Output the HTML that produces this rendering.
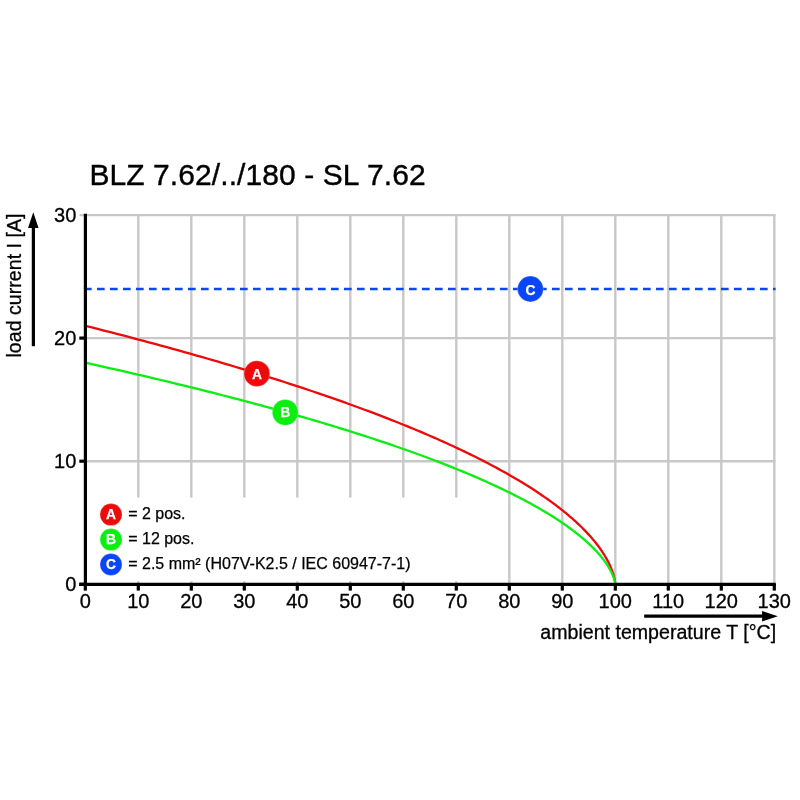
<!DOCTYPE html>
<html><head><meta charset="utf-8"><title>Derating curve</title>
<style>
html,body{margin:0;padding:0;background:#fff;}
body{width:800px;height:800px;overflow:hidden;}
svg{display:block;will-change:transform;}
text{font-family:"Liberation Sans",sans-serif;fill:#000;}
</style></head><body>
<svg width="800" height="800" viewBox="0 0 800 800">
<text x="89.4" y="184.9" font-size="30" textLength="336.2" lengthAdjust="spacing" stroke="#000" stroke-width="0.4">BLZ 7.62/../180 - SL 7.62</text>
<g stroke="#c8c8c8" stroke-width="2.4" fill="none">
<line x1="138.30" y1="215" x2="138.30" y2="584"/><line x1="191.30" y1="215" x2="191.30" y2="584"/><line x1="244.30" y1="215" x2="244.30" y2="584"/><line x1="297.30" y1="215" x2="297.30" y2="584"/><line x1="350.30" y1="215" x2="350.30" y2="584"/><line x1="403.30" y1="215" x2="403.30" y2="584"/><line x1="456.30" y1="215" x2="456.30" y2="584"/><line x1="509.30" y1="215" x2="509.30" y2="584"/><line x1="562.30" y1="215" x2="562.30" y2="584"/><line x1="615.30" y1="215" x2="615.30" y2="584"/><line x1="668.30" y1="215" x2="668.30" y2="584"/><line x1="721.30" y1="215" x2="721.30" y2="584"/><line x1="774.30" y1="215" x2="774.30" y2="584"/><line x1="85" y1="461.20" x2="775.5" y2="461.20"/><line x1="85" y1="338.10" x2="775.5" y2="338.10"/><line x1="79.5" y1="215.05" x2="775.7" y2="215.05" stroke-width="2.15"/>
</g>
<rect x="86.5" y="497.6" width="390" height="83.6" fill="#fff"/>
<path d="M83.95,289.06 H775.6" stroke="#0a46f5" stroke-width="2.4" stroke-dasharray="7.7,5.3" fill="none"/>
<path d="M85.30,325.79 L91.90,327.45 L98.44,329.12 L104.93,330.77 L111.36,332.43 L117.74,334.08 L124.06,335.73 L130.34,337.38 L136.55,339.02 L142.72,340.66 L148.83,342.30 L154.89,343.94 L160.89,345.57 L166.84,347.20 L172.74,348.82 L178.59,350.45 L184.39,352.07 L190.14,353.68 L195.83,355.30 L201.47,356.91 L207.07,358.51 L212.61,360.12 L218.10,361.72 L223.54,363.32 L228.93,364.91 L234.27,366.50 L239.56,368.09 L244.81,369.68 L250.00,371.26 L255.14,372.84 L260.24,374.42 L265.29,375.99 L270.29,377.56 L275.24,379.12 L280.15,380.68 L285.00,382.24 L289.81,383.80 L294.58,385.35 L299.29,386.90 L303.96,388.45 L308.59,389.99 L313.16,391.53 L317.70,393.06 L322.18,394.59 L326.62,396.12 L331.02,397.64 L335.37,399.17 L339.68,400.68 L343.94,402.20 L348.16,403.71 L352.33,405.21 L356.46,406.72 L360.55,408.21 L364.59,409.71 L368.59,411.20 L372.55,412.69 L376.47,414.17 L380.34,415.65 L384.17,417.13 L387.96,418.60 L391.71,420.07 L395.41,421.54 L399.08,423.00 L402.70,424.46 L406.28,425.91 L409.83,427.36 L413.33,428.80 L416.79,430.24 L420.21,431.68 L423.60,433.11 L426.94,434.54 L430.24,435.97 L433.51,437.39 L436.74,438.81 L439.93,440.22 L443.08,441.63 L446.19,443.03 L449.26,444.43 L452.30,445.83 L455.30,447.22 L458.26,448.61 L461.19,449.99 L464.08,451.37 L466.93,452.74 L469.75,454.11 L472.53,455.48 L475.28,456.84 L477.99,458.19 L480.66,459.55 L483.30,460.89 L485.91,462.23 L488.48,463.57 L491.01,464.91 L493.51,466.23 L495.98,467.56 L498.42,468.88 L500.82,470.19 L503.19,471.50 L505.52,472.81 L507.83,474.11 L510.10,475.40 L512.34,476.69 L514.54,477.98 L516.72,479.26 L518.86,480.53 L520.97,481.80 L523.05,483.07 L525.10,484.33 L527.12,485.58 L529.11,486.83 L531.07,488.07 L533.00,489.31 L534.90,490.55 L536.77,491.78 L538.61,493.00 L540.42,494.22 L542.20,495.43 L543.96,496.64 L545.68,497.84 L547.38,499.03 L549.05,500.22 L550.69,501.41 L552.31,502.59 L553.90,503.76 L555.46,504.93 L556.99,506.09 L558.50,507.24 L559.98,508.39 L561.44,509.54 L562.87,510.68 L564.27,511.81 L565.65,512.93 L567.00,514.05 L568.33,515.17 L569.64,516.28 L570.92,517.38 L572.17,518.47 L573.41,519.56 L574.61,520.64 L575.80,521.72 L576.96,522.79 L578.10,523.85 L579.22,524.91 L580.31,525.96 L581.38,527.00 L582.43,528.04 L583.46,529.07 L584.46,530.09 L585.45,531.11 L586.41,532.12 L587.35,533.12 L588.27,534.12 L589.17,535.10 L590.05,536.08 L590.91,537.06 L591.75,538.02 L592.58,538.98 L593.38,539.94 L594.16,540.88 L594.93,541.82 L595.67,542.75 L596.40,543.67 L597.11,544.58 L597.80,545.49 L598.47,546.39 L599.13,547.28 L599.76,548.16 L600.39,549.03 L600.99,549.90 L601.58,550.76 L602.15,551.61 L602.71,552.45 L603.24,553.28 L603.77,554.10 L604.28,554.92 L604.77,555.73 L605.25,556.53 L605.71,557.31 L606.16,558.10 L606.60,558.87 L607.02,559.63 L607.43,560.38 L607.82,561.13 L608.20,561.86 L608.57,562.59 L608.92,563.30 L609.26,564.01 L609.59,564.70 L609.91,565.39 L610.21,566.07 L610.51,566.73 L610.79,567.39 L611.06,568.04 L611.32,568.67 L611.57,569.30 L611.81,569.91 L612.03,570.51 L612.25,571.11 L612.46,571.69 L612.66,572.26 L612.85,572.82 L613.03,573.37 L613.20,573.90 L613.36,574.43 L613.51,574.94 L613.66,575.44 L613.79,575.93 L613.92,576.41 L614.04,576.88 L614.16,577.33 L614.26,577.77 L614.36,578.20 L614.46,578.61 L614.55,579.01 L614.63,579.40 L614.70,579.77 L614.77,580.13 L614.83,580.48 L614.89,580.81 L614.94,581.13 L614.99,581.44 L615.04,581.73 L615.08,582.00 L615.11,582.26 L615.14,582.51 L615.17,582.74 L615.19,582.95 L615.22,583.15 L615.23,583.34 L615.25,583.50 L615.26,583.66 L615.27,583.79 L615.28,583.91 L615.29,584.01 L615.29,584.10 L615.30,584.17 L615.30,584.22 L615.30,584.26 L615.30,584.29 L615.30,584.30 L615.30,584.30" stroke="#ee0a0a" stroke-width="2.3" fill="none"/>
<path d="M85.30,362.72 L91.90,364.17 L98.44,365.63 L104.93,367.07 L111.36,368.52 L117.74,369.97 L124.06,371.41 L130.34,372.85 L136.55,374.28 L142.72,375.71 L148.83,377.15 L154.89,378.57 L160.89,380.00 L166.84,381.42 L172.74,382.84 L178.59,384.26 L184.39,385.67 L190.14,387.08 L195.83,388.49 L201.47,389.90 L207.07,391.30 L212.61,392.70 L218.10,394.10 L223.54,395.50 L228.93,396.89 L234.27,398.28 L239.56,399.66 L244.81,401.05 L250.00,402.43 L255.14,403.80 L260.24,405.18 L265.29,406.55 L270.29,407.92 L275.24,409.28 L280.15,410.64 L285.00,412.00 L289.81,413.36 L294.58,414.71 L299.29,416.06 L303.96,417.41 L308.59,418.75 L313.16,420.09 L317.70,421.43 L322.18,422.77 L326.62,424.10 L331.02,425.42 L335.37,426.75 L339.68,428.07 L343.94,429.39 L348.16,430.70 L352.33,432.01 L356.46,433.32 L360.55,434.63 L364.59,435.93 L368.59,437.23 L372.55,438.52 L376.47,439.81 L380.34,441.10 L384.17,442.38 L387.96,443.66 L391.71,444.94 L395.41,446.22 L399.08,447.49 L402.70,448.75 L406.28,450.02 L409.83,451.27 L413.33,452.53 L416.79,453.78 L420.21,455.03 L423.60,456.28 L426.94,457.52 L430.24,458.75 L433.51,459.99 L436.74,461.22 L439.93,462.44 L443.08,463.67 L446.19,464.88 L449.26,466.10 L452.30,467.31 L455.30,468.51 L458.26,469.72 L461.19,470.92 L464.08,472.11 L466.93,473.30 L469.75,474.49 L472.53,475.67 L475.28,476.85 L477.99,478.02 L480.66,479.19 L483.30,480.36 L485.91,481.52 L488.48,482.68 L491.01,483.83 L493.51,484.98 L495.98,486.12 L498.42,487.27 L500.82,488.40 L503.19,489.53 L505.52,490.66 L507.83,491.78 L510.10,492.90 L512.34,494.01 L514.54,495.12 L516.72,496.23 L518.86,497.33 L520.97,498.42 L523.05,499.51 L525.10,500.60 L527.12,501.68 L529.11,502.76 L531.07,503.83 L533.00,504.90 L534.90,505.96 L536.77,507.02 L538.61,508.07 L540.42,509.12 L542.20,510.16 L543.96,511.20 L545.68,512.23 L547.38,513.26 L549.05,514.28 L550.69,515.30 L552.31,516.31 L553.90,517.31 L555.46,518.32 L556.99,519.31 L558.50,520.30 L559.98,521.29 L561.44,522.27 L562.87,523.24 L564.27,524.21 L565.65,525.18 L567.00,526.13 L568.33,527.09 L569.64,528.03 L570.92,528.97 L572.17,529.91 L573.41,530.84 L574.61,531.76 L575.80,532.68 L576.96,533.59 L578.10,534.50 L579.22,535.40 L580.31,536.29 L581.38,537.18 L582.43,538.06 L583.46,538.94 L584.46,539.80 L585.45,540.67 L586.41,541.52 L587.35,542.37 L588.27,543.22 L589.17,544.06 L590.05,544.89 L590.91,545.71 L591.75,546.53 L592.58,547.34 L593.38,548.14 L594.16,548.94 L594.93,549.73 L595.67,550.52 L596.40,551.29 L597.11,552.06 L597.80,552.82 L598.47,553.58 L599.13,554.33 L599.76,555.07 L600.39,555.80 L600.99,556.53 L601.58,557.25 L602.15,557.96 L602.71,558.66 L603.24,559.36 L603.77,560.05 L604.28,560.73 L604.77,561.40 L605.25,562.07 L605.71,562.72 L606.16,563.37 L606.60,564.01 L607.02,564.65 L607.43,565.27 L607.82,565.89 L608.20,566.49 L608.57,567.09 L608.92,567.68 L609.26,568.26 L609.59,568.84 L609.91,569.40 L610.21,569.96 L610.51,570.50 L610.79,571.04 L611.06,571.57 L611.32,572.09 L611.57,572.60 L611.81,573.10 L612.03,573.59 L612.25,574.07 L612.46,574.54 L612.66,575.00 L612.85,575.45 L613.03,575.89 L613.20,576.32 L613.36,576.75 L613.51,577.16 L613.66,577.56 L613.79,577.95 L613.92,578.33 L614.04,578.69 L614.16,579.05 L614.26,579.40 L614.36,579.74 L614.46,580.06 L614.55,580.37 L614.63,580.67 L614.70,580.97 L614.77,581.24 L614.83,581.51 L614.89,581.77 L614.94,582.01 L614.99,582.24 L615.04,582.46 L615.08,582.67 L615.11,582.86 L615.14,583.04 L615.17,583.21 L615.19,583.37 L615.22,583.52 L615.23,583.65 L615.25,583.77 L615.26,583.87 L615.27,583.97 L615.28,584.05 L615.29,584.12 L615.29,584.18 L615.30,584.22 L615.30,584.26 L615.30,584.28 L615.30,584.29 L615.30,584.30 L615.30,584.30" stroke="#0aee10" stroke-width="2.3" fill="none"/>
<g stroke="#000" stroke-width="3.2" fill="none">
<line x1="85.4" y1="213.8" x2="85.4" y2="585.9"/>
<line x1="79.3" y1="584.3" x2="775.8" y2="584.3"/>
<line x1="85.30" y1="584" x2="85.30" y2="590.6"/><line x1="138.30" y1="584" x2="138.30" y2="590.6"/><line x1="191.30" y1="584" x2="191.30" y2="590.6"/><line x1="244.30" y1="584" x2="244.30" y2="590.6"/><line x1="297.30" y1="584" x2="297.30" y2="590.6"/><line x1="350.30" y1="584" x2="350.30" y2="590.6"/><line x1="403.30" y1="584" x2="403.30" y2="590.6"/><line x1="456.30" y1="584" x2="456.30" y2="590.6"/><line x1="509.30" y1="584" x2="509.30" y2="590.6"/><line x1="562.30" y1="584" x2="562.30" y2="590.6"/><line x1="615.30" y1="584" x2="615.30" y2="590.6"/><line x1="668.30" y1="584" x2="668.30" y2="590.6"/><line x1="721.30" y1="584" x2="721.30" y2="590.6"/><line x1="774.30" y1="584" x2="774.30" y2="590.6"/>
<line x1="79.3" y1="584.30" x2="85" y2="584.30"/><line x1="79.3" y1="461.20" x2="85" y2="461.20"/><line x1="79.3" y1="338.10" x2="85" y2="338.10"/>
</g>
<g font-size="20" stroke="#000" stroke-width="0.3">
<text x="85.30" y="608.3" text-anchor="middle">0</text><text x="138.30" y="608.3" text-anchor="middle">10</text><text x="191.30" y="608.3" text-anchor="middle">20</text><text x="244.30" y="608.3" text-anchor="middle">30</text><text x="297.30" y="608.3" text-anchor="middle">40</text><text x="350.30" y="608.3" text-anchor="middle">50</text><text x="403.30" y="608.3" text-anchor="middle">60</text><text x="456.30" y="608.3" text-anchor="middle">70</text><text x="509.30" y="608.3" text-anchor="middle">80</text><text x="562.30" y="608.3" text-anchor="middle">90</text><text x="615.30" y="608.3" text-anchor="middle">100</text><text x="668.30" y="608.3" text-anchor="middle">110</text><text x="721.30" y="608.3" text-anchor="middle">120</text><text x="774.30" y="608.3" text-anchor="middle">130</text>
<text x="76.3" y="591.40" text-anchor="end">0</text><text x="76.3" y="468.30" text-anchor="end">10</text><text x="76.3" y="345.20" text-anchor="end">20</text><text x="76.3" y="222.10" text-anchor="end">30</text>
</g>
<!-- y arrow -->
<line x1="33.4" y1="346.2" x2="33.4" y2="226" stroke="#000" stroke-width="3.25"/>
<polygon points="33.3,212.3 28.05,228 38.55,228" fill="#000"/>
<text transform="translate(21.3,357.5) rotate(-90)" font-size="19.6" stroke="#000" stroke-width="0.3" textLength="144" lengthAdjust="spacing">load current I [A]</text>
<!-- x arrow -->
<line x1="644.2" y1="616.2" x2="764" y2="616.2" stroke="#000" stroke-width="3.2"/>
<polygon points="777.8,616.2 762.1,610.95 762.1,621.45" fill="#000"/>
<text x="540.3" y="638.8" font-size="19.6" stroke="#000" stroke-width="0.3" textLength="235.8" lengthAdjust="spacing">ambient temperature T [°C]</text>
<!-- markers -->
<g font-size="13.8" font-weight="bold" text-anchor="middle" stroke="#fff" stroke-width="0.25">
<circle cx="256.9" cy="373.7" r="12.9" fill="#ee0a0a"/><text x="256.9" y="378.6" style="fill:#fff">A</text>
<circle cx="285.2" cy="412.4" r="12.9" fill="#0aee10"/><text x="285.2" y="417.3" style="fill:#fff">B</text>
<circle cx="530.4" cy="289.0" r="12.9" fill="#0a46f5"/><text x="530.6" y="294.9" style="fill:#fff">C</text>
<circle cx="111" cy="514.6" r="11" fill="#ee0a0a"/><text x="111" y="519.0" style="fill:#fff">A</text>
<circle cx="111" cy="539.6" r="11" fill="#0aee10"/><text x="111" y="544.0" style="fill:#fff">B</text>
<circle cx="111" cy="564.5" r="11" fill="#0a46f5"/><text x="111" y="568.9" style="fill:#fff">C</text>
</g>
<g font-size="16" stroke="#000" stroke-width="0.25">
<text x="128.2" y="518.7">= 2 pos.</text>
<text x="128.2" y="543.7">= 12 pos.</text>
<text x="128.2" y="568.7">= 2.5 mm² (H07V-K2.5 / IEC 60947-7-1)</text>
</g>
</svg>
</body></html>
